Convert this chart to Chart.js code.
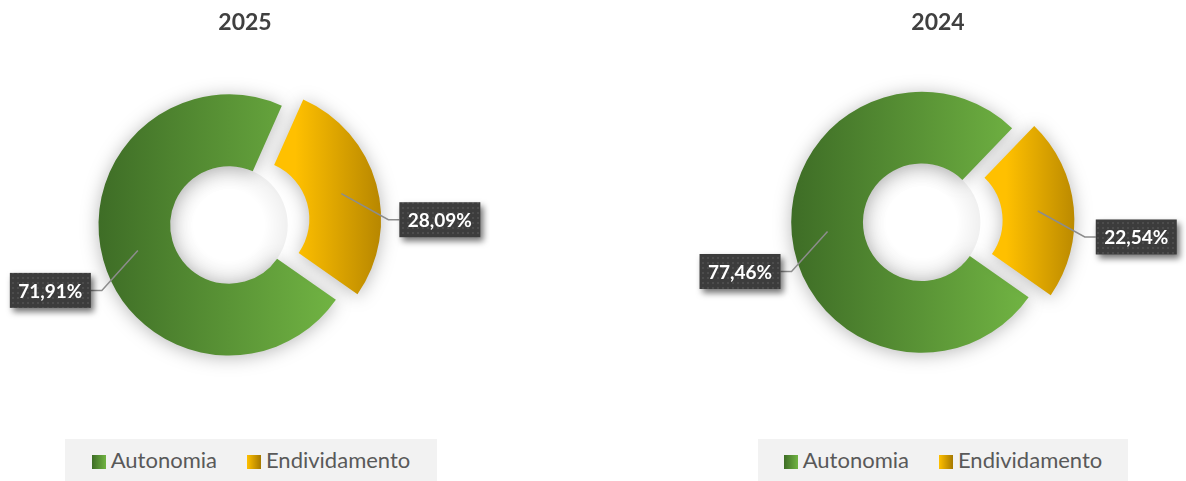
<!DOCTYPE html>
<html lang="pt">
<head>
<meta charset="utf-8">
<title>Autonomia / Endividamento</title>
<script src="https://cdn.jsdelivr.net/npm/chart.js@4/dist/chart.umd.min.js"></script>
<style>
  html, body { margin: 0; padding: 0; background: #fff; }
  #stage { position: relative; width: 1186px; height: 481px; overflow: hidden; }
  .panel { position: absolute; top: 0; height: 481px; }
  .panel canvas { position: absolute; left: 0; top: 0; }
  .panel-title {
    position: absolute; top: 7px; left: 0; width: 100%; text-align: center;
    font: bold 23px/28px Lato, "Open Sans", sans-serif; color: #404040;
  }
  .legend {
    position: absolute; top: 439px; height: 42px; background: #f2f2f2;
    display: flex; align-items: center; justify-content: center; gap: 30px;
    font: 22px/26px Lato, "Open Sans", sans-serif; color: #595959;
  }
  .legend-item { display: flex; align-items: center; }
  .legend-swatch { width: 14px; height: 14px; margin-right: 5px; margin-top: 3px; }
</style>
</head>
<body>
<div id="stage"></div>

<script>
/* ---- data ---- */
const years = ['2025', '2024'];
const categories = ['Autonomia', 'Endividamento'];
const autonomia = [71.91, 77.46];
const endividamento = [28.09, 22.54];

/* ---- look ---- */
const SLICE_STOPS = [['#3e6d26', '#71b443'], ['#ffc000', '#a67900']];
const ROTATION = 125;          // first slice angle (deg)
const RADIUS = 130.5;
const CUTOUT = '45%';
const EXPLODE = [0, 22];       // px the slice is pulled out
const LEADER = [[-36, 40], [47, 26]];
const TAIL = 11;

const panels = [
  { left: 0,   width: 490, cx: 229,   cy: 225,   legendLeft: 65, legendWidth: 372 },
  { left: 690, width: 496, cx: 231.7, cy: 222.3, legendLeft: 68, legendWidth: 370 }
];

const fmt = v => v.toFixed(2).replace('.', ',') + '%';

function sliceFill(c) {
  const stops = SLICE_STOPS[c.dataIndex] || SLICE_STOPS[0];
  const chart = c.chart, area = chart.chartArea;
  if (c.type !== 'data' || !area) return stops[0];
  const values = chart.data.datasets[c.datasetIndex].data;
  const total = values.reduce((a, b) => a + b, 0);
  let start = -Math.PI / 2 + ROTATION * Math.PI / 180;
  for (let i = 0; i < c.dataIndex; i++) start += values[i] / total * Math.PI * 2;
  const end = start + values[c.dataIndex] / total * Math.PI * 2;
  const mid = (start + end) / 2;
  const cx = (area.left + area.right) / 2 + Math.cos(mid) * EXPLODE[c.dataIndex];
  const R = RADIUS, r = RADIUS * parseFloat(CUTOUT) / 100;
  let minX = Infinity, maxX = -Infinity;
  for (let k = 0; k <= 60; k++) {
    const a = start + (end - start) * k / 60;
    [r, R].forEach(rad => {
      const x = cx + Math.cos(a) * rad;
      minX = Math.min(minX, x); maxX = Math.max(maxX, x);
    });
  }
  const g = chart.ctx.createLinearGradient(minX, 0, maxX, 0);
  g.addColorStop(0, stops[0]);
  g.addColorStop(1, stops[1]);
  return g;
}

// soft glow under the ring + faint shading in the hole
const softShadow = {
  id: 'softShadow',
  beforeDatasetsDraw(chart) {
    const ctx = chart.ctx;
    ctx.save();
    ctx.shadowColor = 'rgba(0,0,0,0.28)';
    ctx.shadowBlur = 18;
    ctx.shadowOffsetY = 2;
  },
  afterDatasetsDraw(chart) {
    const ctx = chart.ctx;
    ctx.restore();
    const arc = chart.getDatasetMeta(0).data[0];
    if (!arc) return;
    const r = arc.innerRadius;
    const g = ctx.createRadialGradient(arc.x, arc.y, r * 0.6, arc.x, arc.y, r);
    g.addColorStop(0, 'rgba(0,0,0,0)');
    g.addColorStop(1, 'rgba(0,0,0,0.06)');
    ctx.save();
    ctx.beginPath();
    ctx.arc(arc.x, arc.y, r, 0, Math.PI * 2);
    ctx.fillStyle = g;
    ctx.fill();
    ctx.restore();
  }
};

let tile = null;
function boxPattern(ctx) {
  if (!tile) {
    tile = document.createElement('canvas');
    tile.width = 5; tile.height = 5;
    const t = tile.getContext('2d');
    t.fillStyle = '#3c3c3c'; t.fillRect(0, 0, 5, 5);
    t.fillStyle = '#4c4c4c'; t.fillRect(2, 2, 2, 2);
  }
  return ctx.createPattern(tile, 'repeat');
}

// dark callout boxes with leader lines
const calloutLabels = {
  id: 'calloutLabels',
  afterDraw(chart) {
    const ctx = chart.ctx;
    const meta = chart.getDatasetMeta(0);
    const values = chart.data.datasets[0].data;
    meta.data.forEach((arc, i) => {
      const mid = (arc.startAngle + arc.endAngle) / 2;
      const rr = (arc.innerRadius + arc.outerRadius) / 2 + (arc.options.offset || 0) / 4;
      const ax = arc.x + Math.cos(mid) * rr, ay = arc.y + Math.sin(mid) * rr;
      const [dx, dy] = LEADER[i];
      const bx = ax + dx, by = ay + dy;
      const dir = dx < 0 ? -1 : 1;
      const tx = bx + dir * TAIL;

      ctx.save();
      ctx.strokeStyle = '#8c8c8c';
      ctx.lineWidth = 1.5;
      ctx.beginPath();
      ctx.moveTo(ax, ay); ctx.lineTo(bx, by); ctx.lineTo(tx, by);
      ctx.stroke();

      const text = fmt(values[i]);
      ctx.font = 'bold 19px Lato, "Open Sans", sans-serif';
      const w = 81, h = 35;
      const x0 = dir < 0 ? tx - w : tx;
      const y0 = by - h / 2;
      ctx.shadowColor = 'rgba(0,0,0,0.55)';
      ctx.shadowBlur = 6;
      ctx.shadowOffsetX = 3;
      ctx.shadowOffsetY = 4;
      ctx.fillStyle = boxPattern(ctx);
      ctx.fillRect(x0, y0, w, h);
      ctx.shadowColor = 'rgba(0,0,0,0)';
      ctx.fillStyle = '#ffffff';
      ctx.textAlign = 'center';
      ctx.textBaseline = 'middle';
      ctx.fillText(text, x0 + w / 2, by + 1);
      ctx.restore();
    });
  }
};

function buildPanel(p, idx) {
  const stage = document.getElementById('stage');
  const wrap = document.createElement('div');
  wrap.className = 'panel';
  wrap.style.left = p.left + 'px';
  wrap.style.width = p.width + 'px';

  const canvas = document.createElement('canvas');
  canvas.width = p.width; canvas.height = 481;
  canvas.style.width = p.width + 'px'; canvas.style.height = '481px';
  wrap.appendChild(canvas);

  const title = document.createElement('div');
  title.className = 'panel-title';
  title.textContent = years[idx];
  wrap.appendChild(title);

  const legend = document.createElement('div');
  legend.className = 'legend';
  legend.style.left = p.legendLeft + 'px';
  legend.style.width = p.legendWidth + 'px';
  legend.innerHTML = categories.map((c, i) => `
    <span class="legend-item">
      <span class="legend-swatch" style="background:linear-gradient(to right, ${SLICE_STOPS[i][0]}, ${SLICE_STOPS[i][1]})"></span>${c}
    </span>`).join('');
  wrap.appendChild(legend);
  stage.appendChild(wrap);

  // chart area centred on (cx, cy)
  const padRight = p.width - 2 * p.cx;
  const padBottom = 481 - 2 * p.cy;

  new Chart(canvas.getContext('2d'), {
    type: 'doughnut',
    data: {
      labels: categories,
      datasets: [{
        data: [autonomia[idx], endividamento[idx]],
        backgroundColor: sliceFill,
        borderWidth: 0,
        offset: EXPLODE.map(px => px * 4),
        hoverOffset: 0
      }]
    },
    options: {
      responsive: false,
      animation: false,
      devicePixelRatio: 1,
      rotation: ROTATION,
      radius: RADIUS,
      cutout: CUTOUT,
      layout: { padding: { left: 0, top: 0, right: padRight, bottom: padBottom } },
      plugins: {
        legend: { display: false },
        title: { display: false },
        tooltip: { enabled: false }
      }
    },
    plugins: [softShadow, calloutLabels]
  });
}

Promise.all([
  document.fonts.load('bold 19px Lato'),
  document.fonts.load('22px Lato'),
  document.fonts.load('bold 23px Lato')
]).catch(() => {}).then(() => panels.forEach(buildPanel));
</script>
</body>
</html>
